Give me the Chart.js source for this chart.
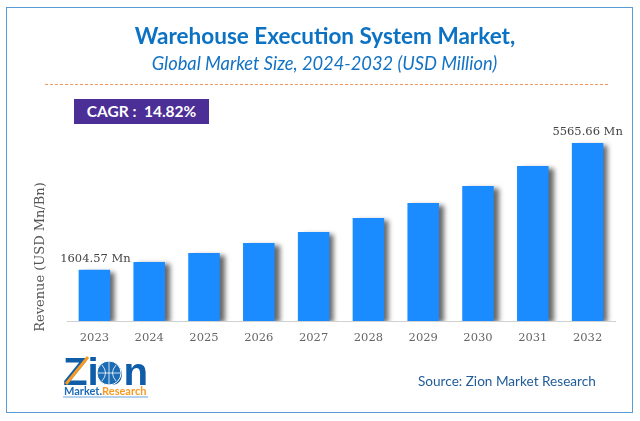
<!DOCTYPE html>
<html>
<head>
<meta charset="utf-8">
<script src="https://cdn.jsdelivr.net/npm/chart.js@4/dist/chart.umd.min.js"></script>
<style>
    body { margin: 0; background: #fff; }
    #wrap { position: relative; width: 640px; height: 421px; overflow: hidden; }
    #frame { position: absolute; left: 6px; top: 7px; width: 625px; height: 404px; border: 1px solid #5b9bd5; }
    #rule { position: absolute; left: 45px; top: 84px; width: 563px; border-top: 1px dashed #f4955a; }
    .txt { position: absolute; white-space: nowrap; }
    #title { left: 0; width: 650px; top: 22px; text-align: center; font: bold 22.5px Lato; color: #0b72c4; }
    #subtitle { left: 0; width: 649px; top: 52px; text-align: center; font: italic 18.3px Lato; color: #1272c4; }
    #cagr { left: 74px; top: 99px; width: 135px; height: 25px; text-align: center; background: #4b2e96; color: #fff; font: bold 15.5px/25px Lato; }
    #ylabel { left: 39px; top: 257px; transform: translate(-50%, -50%) rotate(-90deg); font: 13px "DejaVu Serif"; color: #555; }
    #source { left: 418px; top: 373px; font: 13.6px Lato; color: #1f5c99; }
    canvas { position: absolute; left: 0; top: 0; }
    #logo { position: absolute; left: 60px; top: 352px; }
</style>
</head>
<body>
<div id="wrap">
    <canvas id="chart" width="640" height="421"></canvas>
    <div id="frame"></div>
    <div id="rule"></div>
    <div class="txt" id="title">Warehouse Execution System Market,</div>
    <div class="txt" id="subtitle">Global Market Size, 2024-2032 (USD Million)</div>
    <div class="txt" id="cagr">CAGR :&nbsp; 14.82%</div>
    <div class="txt" id="ylabel">Revenue (USD Mn/Bn)</div>
    <div class="txt" id="source">Source: Zion Market Research</div>
    <svg id="logo" width="92" height="50">
        <text x="3" y="33" font-family="Liberation Sans" font-weight="bold" font-size="38" fill="#0f5ca8" textLength="85" lengthAdjust="spacingAndGlyphs">Zion</text>
        <line x1="6" y1="32" x2="28" y2="5" stroke="#f59a23" stroke-width="3"/>
        <circle cx="49" cy="21" r="12" fill="#1c6bb5" stroke="#fff" stroke-width="1"/>
        <path d="M38 21h22M49 9v24M42 13q7 8 0 16M56 13q-7 8 0 16" stroke="#fff" stroke-width="0.8" fill="none"/>
        <text x="4" y="43" font-family="Lato" font-weight="bold" font-size="11" fill="#1c6bb5">Market.<tspan fill="#f59a23">Research</tspan></text>
        <line x1="3" y1="45" x2="88" y2="45" stroke="#6aa5dc" stroke-width="1"/>
    </svg>
</div>
<script>
const years = ["2023", "2024", "2025", "2026", "2027", "2028", "2029", "2030", "2031", "2032"];
const revenue = [1604.57, 1842, 2126, 2439, 2783, 3221, 3690, 4222, 4847, 5565.66];
const barLabels = ["1604.57 Mn", "", "", "", "", "", "", "", "", "5565.66 Mn"];

// soft shadow to the lower right of the bars
const barShadow = {
    id: "barShadow",
    beforeDatasetDraw(chart) {
        const ctx = chart.ctx;
        ctx.save();
        ctx.shadowColor = "rgba(0, 0, 0, 0.6)";
        ctx.shadowBlur = 5;
        ctx.shadowOffsetX = 5;
        ctx.shadowOffsetY = 2;
    },
    afterDatasetDraw(chart) {
        chart.ctx.restore();
    }
};

// value text on first and last bar only
const endLabels = {
    id: "endLabels",
    afterDatasetsDraw(chart) {
        const ctx = chart.ctx;
        const bars = chart.getDatasetMeta(0).data;
        ctx.save();
        ctx.font = '11.5px "DejaVu Serif"';
        ctx.fillStyle = "#444";
        ctx.textAlign = "center";
        ctx.textBaseline = "bottom";
        bars.forEach((bar, i) => {
            if (barLabels[i]) ctx.fillText(barLabels[i], bar.x + (i === 0 ? 1 : 0), bar.y - 5);
        });
        ctx.restore();
    }
};

new Chart(document.getElementById("chart"), {
    type: "bar",
    data: {
        labels: years,
        datasets: [{
            data: revenue,
            backgroundColor: "#1a8cff",
            categoryPercentage: 1,
            barPercentage: 0.575
        }]
    },
    options: {
        responsive: false,
        animation: false,
        layout: { padding: { left: 67, right: 25, top: 129, bottom: 70 } },
        plugins: { legend: { display: false }, tooltip: { enabled: false } },
        scales: {
            x: {
                afterFit: s => { s.height = 30; },
                grid: { display: false },
                border: { color: "#d0d0d0" },
                ticks: { color: "#666", padding: 2, maxRotation: 0, font: { family: "DejaVu Serif", size: 11.5 } }
            },
            y: { display: false, min: 0, max: 6000 }
        }
    },
    plugins: [barShadow, endLabels]
});
</script>
</body>
</html>
